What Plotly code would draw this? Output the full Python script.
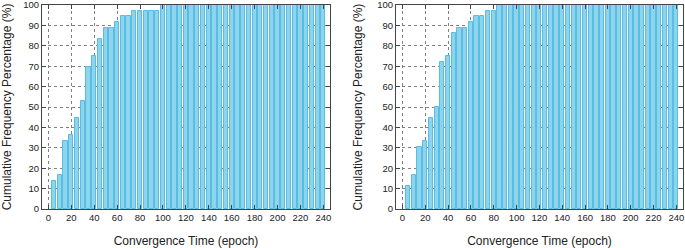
import plotly.graph_objects as go
from plotly.subplots import make_subplots

epochs = [5, 10, 15, 20, 25, 30, 35, 40, 45, 50, 55, 60, 65, 70, 75, 80,
          85, 90, 95, 100, 105, 110, 115, 120, 125, 130, 135, 140, 145, 150,
          155, 160, 165, 170, 175, 180, 185, 190, 195, 200, 205, 210, 215,
          220, 225, 230, 235, 240]

left_pct = [13.9, 16.7, 33.3, 36.1, 44.4, 52.8, 69.4, 75.0, 83.3, 88.9,
            88.9, 91.7, 94.4, 94.4, 97.2, 97.2, 97.2, 97.2, 97.2, 100,
            100, 100, 100, 100, 100, 100, 100, 100, 100, 100,
            100, 100, 100, 100, 100, 100, 100, 100, 100, 100,
            100, 100, 100, 100, 100, 100, 100, 100]

right_pct = [11.1, 16.7, 30.6, 33.3, 44.4, 50.0, 72.2, 75.0, 86.1, 88.9,
             88.9, 91.7, 94.4, 94.4, 97.2, 97.2, 100, 100, 100, 100,
             100, 100, 100, 100, 100, 100, 100, 100, 100, 100,
             100, 100, 100, 100, 100, 100, 100, 100, 100, 100,
             100, 100, 100, 100, 100, 100, 100, 100]

x_ticks = [0, 20, 40, 60, 80, 100, 120, 140, 160, 180, 200, 220, 240]
y_ticks = [0, 10, 20, 30, 40, 50, 60, 70, 80, 90, 100]

x_title = "Convergence Time (epoch)"
y_title = "Cumulative Frequency Percentage (%)"

FILL = "#8fd4ed"
EDGE = "#56bee3"
FRAME = "#444444"
GRID = "#808080"
TXT = "#222222"
FONT = "Liberation Sans, Arial, Helvetica, sans-serif"

fig = make_subplots(rows=1, cols=2, horizontal_spacing=0.1)

for col, vals in ((1, left_pct), (2, right_pct)):
    fig.add_trace(go.Bar(x=epochs, y=vals, width=3.7,
                         marker=dict(color=FILL, line=dict(color=EDGE, width=1)),
                         showlegend=False, hoverinfo="x+y"),
                  row=1, col=col)

axis_common = dict(showline=True, linecolor=FRAME, linewidth=1, mirror="allticks",
                   ticks="inside", ticklen=4, tickcolor=FRAME,
                   showgrid=True, gridcolor=GRID, gridwidth=1, griddash="dot",
                   zeroline=False, automargin=False, ticklabeloverflow="allow",
                   tickfont=dict(size=9.5, color=TXT, family=FONT),
                   title_font=dict(size=12, color=TXT, family=FONT))

fig.update_xaxes(range=[-5.6, 245.8], tickvals=x_ticks, title_text=x_title,
                 title_standoff=14, **axis_common)
fig.update_yaxes(range=[0, 100], tickvals=y_ticks, title_text=y_title,
                 title_standoff=12, **axis_common)

fig.update_layout(xaxis=dict(domain=[0.0, 0.4493]),
                  xaxis2=dict(domain=[0.5523, 1.0]))

fig.update_layout(width=685, height=248, margin=dict(l=42, r=2, t=5, b=39),
                  paper_bgcolor="white", plot_bgcolor="white", bargap=0,
                  font=dict(family=FONT, color=TXT))

fig.write_html("out.html", config={"displayModeBar": False},
               post_script="document.body.style.margin='0';document.body.style.overflow='hidden';")
